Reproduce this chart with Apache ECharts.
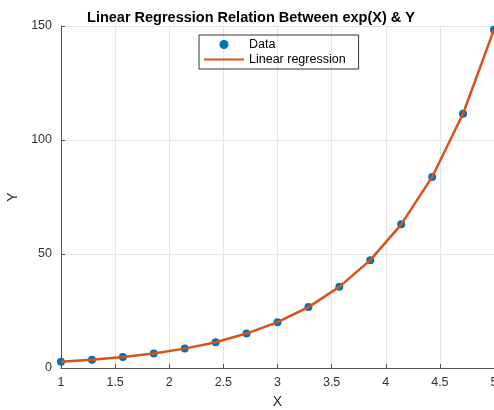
<!DOCTYPE html>
<html><head><meta charset="utf-8">
<script src="https://cdn.jsdelivr.net/npm/echarts@6/dist/echarts.min.js"></script>
<style>html,body{margin:0;padding:0;background:#fff}#c{width:494px;height:410px}</style>
</head><body><div id="c"></div>
<script>
var xValues = [1.000, 1.286, 1.571, 1.857, 2.143, 2.429, 2.714, 3.000, 3.286, 3.571, 3.857, 4.143, 4.429, 4.714, 5.000];
var yData = [2.7, 3.6, 4.8, 6.4, 8.5, 11.3, 15.1, 20.1, 26.7, 35.6, 47.3, 63.0, 83.8, 111.5, 148.4];
var yFit = [2.7, 3.6, 4.8, 6.4, 8.5, 11.3, 15.1, 20.1, 26.7, 35.6, 47.3, 63.0, 83.8, 111.5, 148.4];
var xTicks = [1, 1.5, 2, 2.5, 3, 3.5, 4, 4.5, 5];
var yTicks = [0, 50, 100, 150];

var font = 'Liberation Sans, Arial, Helvetica, sans-serif';
var chart = echarts.init(document.getElementById('c'));
chart.setOption({
  animation: false,
  title: {
    text: 'Linear Regression Relation Between exp(X) & Y',
    left: 246, top: 5, textAlign: 'center',
    textStyle: {fontFamily: font, fontSize: 14.5, fontWeight: 'bold', color: '#000'}
  },
  grid: {left: 61, right: 0, top: 26, bottom: 42, outerBoundsMode: 'none', containLabel: false},
  legend: {
    left: 199, top: 35, orient: 'vertical',
    borderColor: '#333', borderWidth: 1, borderRadius: 0,
    padding: [3, 13, 3, 4], itemGap: 2, itemWidth: 40, itemHeight: 9,
    textStyle: {fontFamily: font, fontSize: 12.5, color: '#000'},
    data: [
      {name: 'Data', icon: 'circle', itemStyle: {opacity: 1}},
      {name: 'Linear regression', itemStyle: {opacity: 0}}
    ]
  },
  xAxis: {
    type: 'value', min: 1, max: 5, interval: 0.5,
    name: 'X', nameLocation: 'middle', nameGap: 27,
    nameTextStyle: {fontFamily: font, fontSize: 14, color: '#262626'},
    axisLine: {lineStyle: {color: '#555', width: 1}},
    axisTick: {inside: true, length: 4, lineStyle: {color: '#555'}},
    axisLabel: {fontFamily: font, fontSize: 12.5, color: '#333', margin: 8, hideOverlap: false,
      formatter: function(v){ return xTicks.indexOf(v) >= 0 ? String(v) : ''; }},
    splitLine: {show: true, lineStyle: {color: '#e6e6e6', width: 1}}
  },
  yAxis: {
    type: 'value', min: 0, max: 150, interval: 50,
    name: 'Y', nameLocation: 'middle', nameGap: 38, nameRotate: 90,
    nameTextStyle: {fontFamily: font, fontSize: 14, color: '#262626'},
    axisLine: {show: true, lineStyle: {color: '#555', width: 1}},
    axisTick: {show: true, inside: true, length: 4, lineStyle: {color: '#555'}},
    axisLabel: {fontFamily: font, fontSize: 12.5, color: '#333', margin: 9,
      formatter: function(v){ return yTicks.indexOf(v) >= 0 ? String(v) : ''; }},
    splitLine: {show: true, lineStyle: {color: '#e6e6e6', width: 1}}
  },
  series: [
    {
      name: 'Data', type: 'scatter', symbol: 'circle', symbolSize: 8, clip: false,
      itemStyle: {color: '#0072BD', opacity: 1}, z: 3,
      data: xValues.map(function(x, i){ return [x, yData[i]]; })
    },
    {
      name: 'Linear regression', type: 'line', symbol: 'none', clip: false,
      lineStyle: {color: '#D95319', width: 2.5}, itemStyle: {color: '#D95319'}, z: 4,
      data: xValues.map(function(x, i){ return [x, yFit[i]]; })
    }
  ]
});
</script></body></html>
